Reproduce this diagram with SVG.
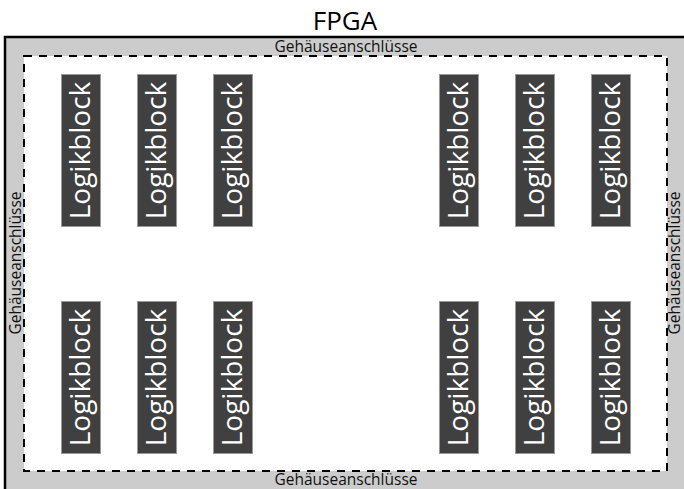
<svg xmlns="http://www.w3.org/2000/svg" width="684" height="489" viewBox="0 0 684 489">
<style>
.lb rect{fill:#404040;stroke:#9a9a9a;stroke-width:1}
.lb text{fill:#fff;font-family:"Open Sans",sans-serif;font-size:28px;text-anchor:middle}
.pin{fill:#111;font-family:"Open Sans",sans-serif;font-size:15.5px;text-anchor:middle}
</style>
<rect width="684" height="489" fill="#fff"/>
<text x="345" y="30" font-family="Open Sans, sans-serif" font-size="26" text-anchor="middle" fill="#000">FPGA</text>
<g id="package">
<rect x="5" y="37" width="690" height="460" fill="#cccccc" stroke="#000" stroke-width="2.5"/>
<rect x="24" y="56" width="643" height="415" fill="#fff" stroke="#000" stroke-width="2" stroke-dasharray="8,7"/>
<text class="pin" x="346" y="52">Gehäuseanschlüsse</text>
<text class="pin" x="346" y="485">Gehäuseanschlüsse</text>
<text class="pin" transform="translate(21,263) rotate(-90)">Gehäuseanschlüsse</text>
<text class="pin" transform="translate(680,263) rotate(-90)">Gehäuseanschlüsse</text>
</g>
<g id="lb1" class="lb"><rect x="61.5" y="74.5" width="39" height="152"/><text transform="translate(90,150.5) rotate(-90)">Logikblock</text></g>
<g id="lb2" class="lb"><rect x="137.5" y="74.5" width="39" height="152"/><text transform="translate(166,150.5) rotate(-90)">Logikblock</text></g>
<g id="lb3" class="lb"><rect x="213.5" y="74.5" width="39" height="152"/><text transform="translate(242,150.5) rotate(-90)">Logikblock</text></g>
<g id="lb4" class="lb"><rect x="439.5" y="74.5" width="39" height="152"/><text transform="translate(468,150.5) rotate(-90)">Logikblock</text></g>
<g id="lb5" class="lb"><rect x="515.5" y="74.5" width="39" height="152"/><text transform="translate(544,150.5) rotate(-90)">Logikblock</text></g>
<g id="lb6" class="lb"><rect x="591.5" y="74.5" width="39" height="152"/><text transform="translate(620,150.5) rotate(-90)">Logikblock</text></g>
<g id="lb7" class="lb"><rect x="61.5" y="301.5" width="39" height="152"/><text transform="translate(90,377.5) rotate(-90)">Logikblock</text></g>
<g id="lb8" class="lb"><rect x="137.5" y="301.5" width="39" height="152"/><text transform="translate(166,377.5) rotate(-90)">Logikblock</text></g>
<g id="lb9" class="lb"><rect x="213.5" y="301.5" width="39" height="152"/><text transform="translate(242,377.5) rotate(-90)">Logikblock</text></g>
<g id="lb10" class="lb"><rect x="439.5" y="301.5" width="39" height="152"/><text transform="translate(468,377.5) rotate(-90)">Logikblock</text></g>
<g id="lb11" class="lb"><rect x="515.5" y="301.5" width="39" height="152"/><text transform="translate(544,377.5) rotate(-90)">Logikblock</text></g>
<g id="lb12" class="lb"><rect x="591.5" y="301.5" width="39" height="152"/><text transform="translate(620,377.5) rotate(-90)">Logikblock</text></g>
<g id="connectors"/>
</svg>
